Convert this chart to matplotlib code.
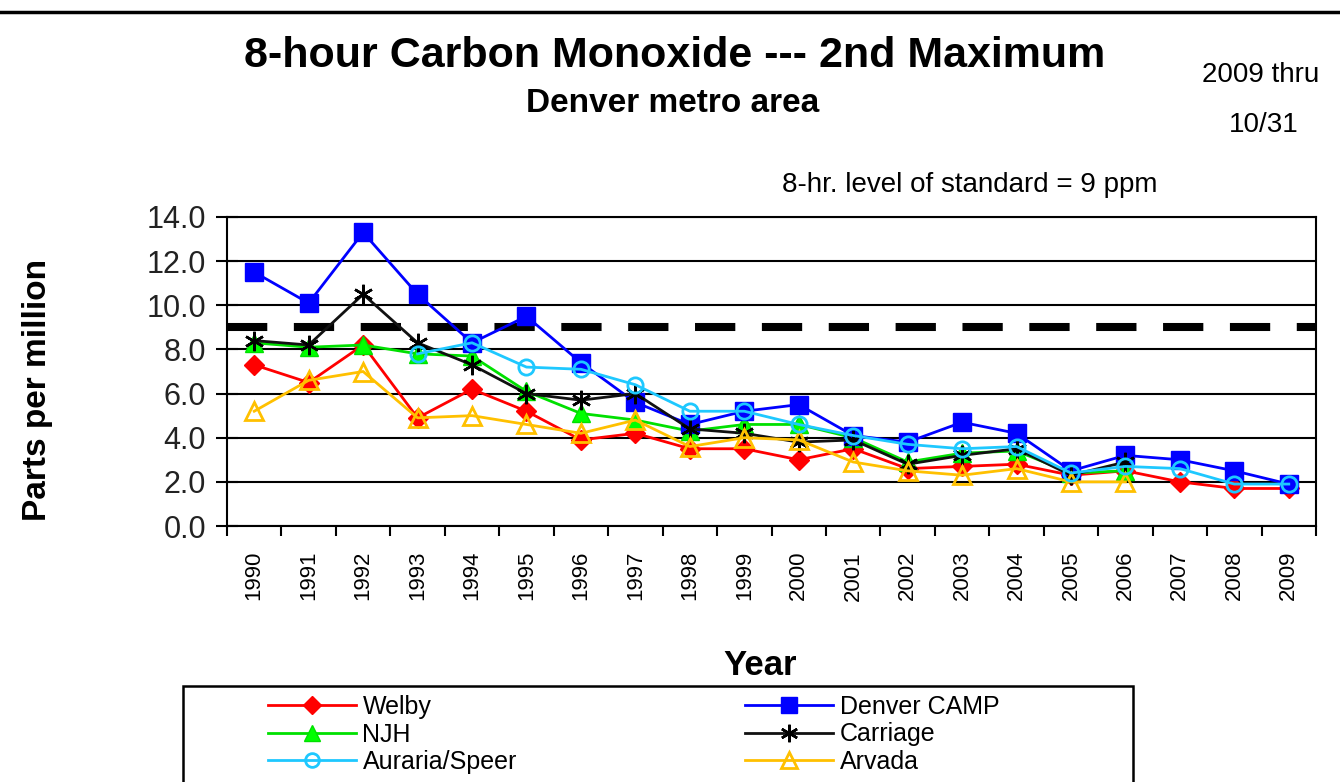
import numpy as np
import matplotlib.pyplot as plt
from matplotlib.patches import Rectangle
from matplotlib.lines import Line2D

plt.rcParams['font.family'] = ['Liberation Sans', 'DejaVu Sans']

W, H = 1340, 782

# 8-hour CO, 2nd maximum (ppm); None = no data that year
years = [str(y) for y in range(1990, 2010)]
welby = [7.3, 6.5, 8.2, 4.9, 6.2, 5.2, 3.9, 4.2, 3.5, 3.5,
         3.0, 3.5, 2.6, 2.7, 2.8, 2.3, 2.5, 2.0, 1.7, 1.7]
denver_camp = [11.5, 10.1, 13.3, 10.5, 8.3, 9.5, 7.4, 5.6, 4.6, 5.2,
               5.5, 4.1, 3.8, 4.7, 4.2, 2.5, 3.2, 3.0, 2.5, 1.9]
njh = [8.3, 8.1, 8.2, 7.8, 7.7, 6.1, 5.1, 4.8, 4.3, 4.6,
       4.6, 4.0, 2.9, 3.3, 3.4, 2.4, 2.5, None, None, None]
carriage = [8.4, 8.2, 10.5, 8.3, 7.3, 6.0, 5.7, 6.0, 4.4, 4.2,
            3.8, 3.9, 2.8, 3.2, 3.5, 2.3, 2.9, None, None, None]
auraria = [None, None, None, 7.8, 8.3, 7.2, 7.1, 6.4, 5.2, 5.2,
           4.6, 4.1, 3.7, 3.5, 3.6, 2.4, 2.7, 2.6, 1.9, 1.9]
arvada = [5.2, 6.6, 7.0, 4.9, 5.0, 4.6, 4.2, 4.8, 3.6, 4.0,
          3.9, 2.9, 2.5, 2.3, 2.6, 2.0, 2.0, None, None, None]
standard = 9.0

def fx(px):
    return px / W

def fy(py):
    return 1 - py / H

def arr(v):
    return np.array([np.nan if x is None else x for x in v], dtype=float)

fig = plt.figure(figsize=(W / 100, H / 100), dpi=100)
ax = fig.add_axes([fx(227), fy(526), fx(1316) - fx(227), fy(217) - fy(526)])

x = np.arange(len(years))

ax.axhline(standard, color='black', lw=5.8, dashes=(5, 3.3), zorder=1)

ax.plot(x, arr(welby), color='#ff0000', lw=2, marker='D', ms=10,
        mfc='#ff0000', mec='#ff0000', label='Welby', zorder=3)
ax.plot(x, arr(njh), color='#00e000', lw=2, marker='^', ms=13,
        mfc='#00ff00', mec='#00e000', label='NJH', zorder=3)
ax.plot(x, arr(auraria), color='#1ec8ff', lw=2, marker='o', ms=11,
        mfc='none', mec='#1ec8ff', mew=2, label='Auraria/Speer', zorder=5)
ax.plot(x, arr(denver_camp), color='#0000ff', lw=2, marker='s', ms=13,
        mfc='#0000ff', mec='#0000ff', label='Denver CAMP', zorder=3)
ax.plot(x, arr(carriage), color='#111111', lw=2, marker=(6, 2, 0), ms=14,
        mec='black', mew=1.8, label='Carriage', zorder=4)
ax.plot(x, arr(arvada), color='#ffc000', lw=2, marker='^', ms=13,
        mfc='none', mec='#ffc000', mew=2, label='Arvada', zorder=4)

ax.set_xlim(-0.5, len(years) - 0.5)
ax.set_ylim(0, 14)
ax.set_yticks(np.arange(0, 14.1, 2))
ax.set_yticklabels([f'{v:.1f}' for v in np.arange(0, 14.1, 2)],
                   fontsize=22, color='#222222')
ax.tick_params(axis='y', direction='inout', length=16, width=1.5, pad=7)
ax.yaxis.grid(True, color='black', lw=1.5)
ax.set_axisbelow(True)

# ticks between years, labels centred under each year
ax.set_xticks(np.arange(-0.5, len(years), 1))
ax.set_xticklabels([])
ax.set_xticks(x, minor=True)
ax.set_xticklabels(years, minor=True, rotation=90, fontsize=16, va='top')
ax.tick_params(axis='x', which='major', direction='out', length=7, width=1.5)
ax.tick_params(axis='x', which='minor', length=0, pad=18)

for s in ax.spines.values():
    s.set_linewidth(1.5)

# header
fig.add_artist(Line2D([0, 1], [fy(12), fy(12)], color='black', lw=2.5))
fig.text(fx(675), fy(67), '8-hour Carbon Monoxide --- 2nd Maximum',
         ha='center', va='baseline', fontsize=31, fontweight='bold')
fig.text(fx(673), fy(112), 'Denver metro area',
         ha='center', va='baseline', fontsize=24, fontweight='bold')
fig.text(fx(1261), fy(82), '2009 thru', ha='center', va='baseline', fontsize=20)
fig.text(fx(1264), fy(132), '10/31', ha='center', va='baseline', fontsize=20)
fig.text(fx(970), fy(192), '8-hr. level of standard = 9 ppm',
         ha='center', va='baseline', fontsize=20)
fig.text(fx(38), fy(390), 'Parts per million', rotation=90,
         ha='center', va='center', fontsize=24, fontweight='bold')
fig.text(fx(760), fy(675), 'Year', ha='center', va='baseline',
         fontsize=25, fontweight='bold')

# legend box runs off the bottom edge
fig.add_artist(Rectangle((fx(183), fy(800)), fx(1133) - fx(183), fy(686) - fy(800),
                         transform=fig.transFigure, fill=False, ec='black', lw=1.8))
h, l = ax.get_legend_handles_labels()
leg_kw = dict(loc='upper left', ncol=1, frameon=False, fontsize=18,
              handlelength=3.5, handletextpad=0.28, labelspacing=0.14,
              borderpad=0, borderaxespad=0, markerscale=0.9)
fig.legend(h[:3], l[:3], bbox_to_anchor=(fx(268), fy(695)), **leg_kw)
fig.legend(h[3:], l[3:], bbox_to_anchor=(fx(745), fy(695)), **leg_kw)

fig.savefig('out.png', dpi=100)
